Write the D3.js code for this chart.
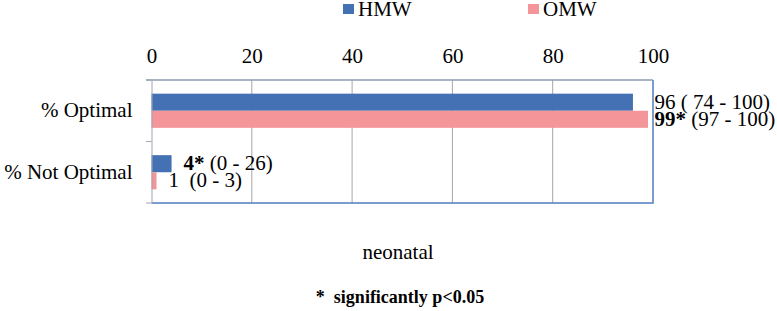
<!DOCTYPE html>
<html>
<head>
<meta charset="utf-8">
<script src="https://cdn.jsdelivr.net/npm/d3@7"></script>
<style>
  body { margin: 0; background: #fff; }
  svg text { font-family: "Liberation Serif", "Times New Roman", Times, "DejaVu Serif", serif; fill: #000; white-space: pre; }
</style>
</head>
<body>
<div id="chart"></div>
<script>
(function () {
  'use strict';

  // data
  var categories = ['% Optimal', '% Not Optimal'];
  var seriesNames = ['HMW', 'OMW'];
  var hmwValues = [96, 4];
  var omwValues = [99, 1];
  var hmwRanges = ['( 74 - 100)', '(0 - 26)'];
  var omwRanges = ['(97 - 100)', '(0 - 3)'];
  var hmwSignificant = [false, true];
  var omwSignificant = [true, false];
  var xTicks = [0, 20, 40, 60, 80, 100];

  var W = 777, H = 311;
  var colors = { HMW: '#4371B3', OMW: '#F4959A' };
  var FONT = '"Liberation Serif", "Times New Roman", Times, "DejaVu Serif", serif';

  var svg = d3.select('#chart').append('svg').attr('width', W).attr('height', H);

  var x = d3.scaleLinear().domain([0, 100]).range([151.5, 653]);
  var y = d3.scaleBand().domain(categories).range([80, 203]);
  var ySub = d3.scaleBand().domain(seriesNames).range([0, y.bandwidth()])
    .paddingInner(0).paddingOuter(0.8);

  var rows = categories.map(function (c, i) {
    return {
      cat: c,
      items: [
        { s: 'HMW', v: hmwValues[i], range: hmwRanges[i], sig: hmwSignificant[i] },
        { s: 'OMW', v: omwValues[i], range: omwRanges[i], sig: omwSignificant[i] }
      ]
    };
  });

  // gridlines
  svg.append('g').selectAll('line')
    .data(xTicks.slice(1, -1)).enter().append('line')
    .attr('x1', function (d) { return x(d); }).attr('x2', function (d) { return x(d); })
    .attr('y1', 80).attr('y2', 203)
    .attr('stroke', '#A6A6A6').attr('stroke-width', 1);

  // plot border (right, bottom)
  svg.append('path')
    .attr('d', 'M' + x(0) + ',203H' + x(100) + 'V80')
    .attr('fill', 'none').attr('stroke', '#4F7CC0').attr('stroke-width', 1.5);

  // bars
  var groups = svg.append('g').selectAll('g')
    .data(rows).enter().append('g')
    .attr('transform', function (d) { return 'translate(0,' + y(d.cat) + ')'; });

  groups.selectAll('rect')
    .data(function (d) { return d.items; }).enter().append('rect')
    .attr('x', x(0))
    .attr('y', function (d) { return ySub(d.s); })
    .attr('width', function (d) { return x(d.v) - x(0); })
    .attr('height', ySub.bandwidth())
    .attr('fill', function (d) { return colors[d.s]; });

  // value labels
  var labels = groups.selectAll('text')
    .data(function (d) { return d.items; }).enter().append('text')
    .attr('x', function (d) { return d.v > 50 ? x(100) + 1.5 : x(d.v) + 12; })
    .attr('y', function (d) { return ySub(d.s) + ySub.bandwidth() / 2; })
    .attr('dy', '0.3em')
    .style('font-family', FONT)
    .style('font-size', '21px');
  labels.append('tspan')
    .style('font-weight', function (d) { return d.sig ? 'bold' : 'normal'; })
    .text(function (d) { return d.v + (d.sig ? '*' : ''); });
  labels.append('tspan')
    .text(function (d) { return (d.sig || d.v > 50 ? ' ' : '  ') + d.range; });

  // top value axis
  var xAxis = svg.append('g').attr('transform', 'translate(0,80)')
    .call(d3.axisTop(x).tickValues(xTicks).tickSize(0).tickPadding(17));
  xAxis.select('.domain').remove();
  xAxis.attr('font-family', null).attr('font-size', null);
  xAxis.selectAll('text')
    .style('font-family', FONT).style('font-size', '21px').attr('fill', '#000');
  svg.append('line')
    .attr('x1', 146).attr('x2', x(100)).attr('y1', 80).attr('y2', 80)
    .attr('stroke', '#8C9DB5').attr('stroke-width', 1.3);

  // category axis
  var yAxis = svg.append('g').attr('transform', 'translate(' + x(0) + ',0)')
    .call(d3.axisLeft(y).tickSize(0).tickPadding(19));
  yAxis.attr('font-family', null).attr('font-size', null);
  yAxis.select('.domain').attr('stroke', '#9EA6B2');
  yAxis.selectAll('text')
    .style('font-family', FONT).style('font-size', '21px').attr('fill', '#000');
  svg.append('g').selectAll('line')
    .data([80, 80 + y.step(), 203]).enter().append('line')
    .attr('x1', 146).attr('x2', x(0))
    .attr('y1', function (d) { return d; }).attr('y2', function (d) { return d; })
    .attr('stroke', '#A6A6A6');

  // legend
  var legend = svg.append('g');
  var legendX = [343, 528];
  seriesNames.forEach(function (s, i) {
    legend.append('rect').attr('x', legendX[i]).attr('y', 4).attr('width', 11).attr('height', 10)
      .attr('fill', colors[s]);
    legend.append('text').attr('x', legendX[i] + 15).attr('y', 15.5)
      .style('font-family', FONT).style('font-size', '21px').text(s);
  });

  // titles
  svg.append('text').attr('x', 398).attr('y', 259).attr('text-anchor', 'middle')
    .style('font-family', FONT).style('font-size', '21px').text('neonatal');
  svg.append('text').attr('x', 400).attr('y', 303).attr('text-anchor', 'middle')
    .style('font-family', FONT).style('font-size', '18px').style('font-weight', 'bold')
    .text('*  significantly p<0.05');
})();
</script>
</body>
</html>
